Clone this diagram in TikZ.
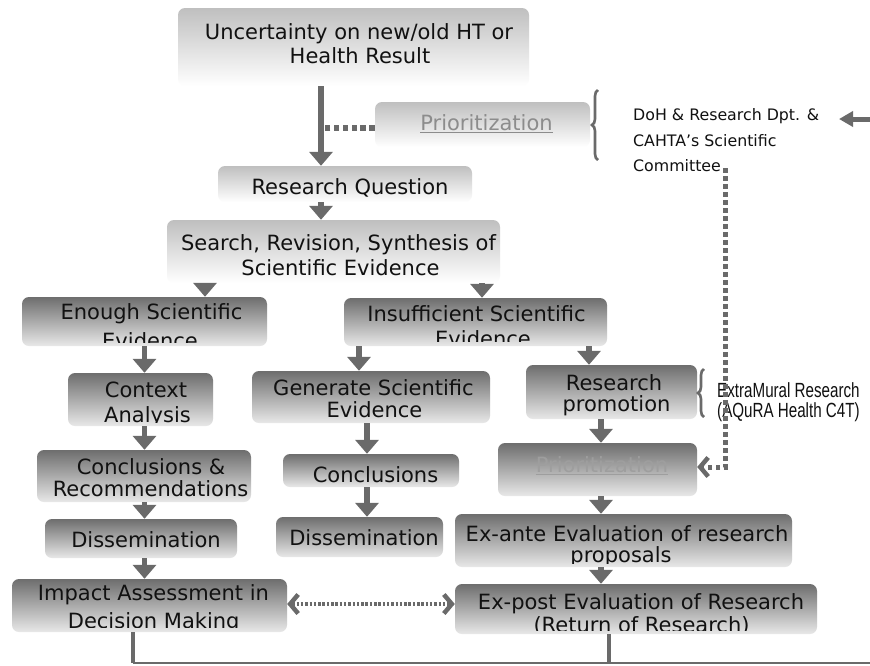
\documentclass[tikz,border=0pt]{standalone}
\usepackage{fontspec}
\usepackage{graphicx}
\setmainfont{DejaVu Sans}
\newfontfamily\arialf{Liberation Sans}
\usetikzlibrary{arrows.meta,decorations.pathreplacing}
\definecolor{arrgray}{HTML}{6A6A6A}
\definecolor{txtc}{HTML}{111111}
% clip to a box, with the lower edge raised by #2 (text frame margin)
\newcommand\clipto[2]{\clip[rounded corners=7pt] ([yshift=#2]#1.south west) rectangle (#1.north east);}
\tikzset{
  chev/.tip={Straight Barb[length=8pt,width=19pt,line width=4.5pt]},
  lbox/.style={rectangle, rounded corners=7pt, inner sep=0pt, draw=none, top color=black!25, bottom color=white},
  dbox/.style={rectangle, rounded corners=7pt, inner sep=0pt, draw=none, top color=black!57, bottom color=black!9},
  tl/.style={anchor=base, inner sep=0pt, text=txtc, font=\fontsize{21}{25}\selectfont},
  side/.style={anchor=base west, inner sep=0pt, text=txtc, font=\fontsize{15.8}{20}\selectfont},
  extra/.style={anchor=base west, inner sep=0pt, text=txtc, font=\arialf\fontsize{20.5}{24}\selectfont},
  arr/.style={draw=arrgray, line width=5.5pt, -{Triangle[width=23pt,length=14pt]}},
  arrsmall/.style={draw=arrgray, line width=5pt, -{Triangle[width=15pt,length=14pt]}},
  dotA/.style={draw=arrgray, line width=6pt, dash pattern=on 5.5pt off 3.4pt},
  dotV/.style={draw=arrgray, line width=5pt, dash pattern=on 4.5pt off 3.5pt},
  dotH/.style={draw=arrgray, line width=4pt, dash pattern=on 2.5pt off 1.8pt},
  brc/.style={draw=arrgray, line width=2.6pt, decorate, decoration={brace, amplitude=6pt}},
  vline/.style={draw=arrgray, line width=4.5pt},
  hline/.style={draw=arrgray, line width=2.5pt},
}
\begin{document}
\begin{tikzpicture}[x=1pt,y=-1pt]
\path[use as bounding box, fill=white] (0,0) rectangle (870,665);

% ---------- boxes ----------
\node[lbox, minimum width=351pt, minimum height=78pt] (top) at (353.5,47) {};
\node[lbox, minimum width=215pt, minimum height=45pt] (prioA) at (482.5,124.5) {};
\node[lbox, minimum width=254pt, minimum height=36pt] (rq) at (345,184) {};
\node[lbox, minimum width=333pt, minimum height=63pt] (search) at (333.5,251.5) {};
\node[dbox, minimum width=245pt, minimum height=49pt] (enough) at (144.5,321.5) {};
\node[dbox, minimum width=263pt, minimum height=48pt] (insuff) at (475.5,322) {};
\node[dbox, minimum width=145pt, minimum height=53pt] (context) at (140.5,399.5) {};
\node[dbox, minimum width=214pt, minimum height=52pt] (concR) at (144,476) {};
\node[dbox, minimum width=192pt, minimum height=39pt] (dissA) at (141,538.5) {};
\node[dbox, minimum width=275pt, minimum height=53pt] (impact) at (149.5,605.5) {};
\node[dbox, minimum width=238pt, minimum height=52pt] (gen) at (371,397) {};
\node[dbox, minimum width=176pt, minimum height=33pt] (concl) at (371,470.5) {};
\node[dbox, minimum width=167pt, minimum height=40pt] (dissB) at (359.5,537) {};
\node[dbox, minimum width=171pt, minimum height=54pt] (promo) at (611.5,392) {};
\node[dbox, minimum width=199pt, minimum height=53pt] (prioB) at (597.5,469.5) {};
\node[dbox, minimum width=337pt, minimum height=53pt] (exante) at (623.5,540.5) {};
\node[dbox, minimum width=362pt, minimum height=50pt] (expost) at (636,609) {};

% ---------- texts ----------
\begin{scope}\clipto{top}{0pt}
\node[tl] (top1) at (359,39.3) {Uncertainty on new/old HT or};
\node[tl] (top2) at (360,63.3) {Health Result};
\end{scope}
\node[tl, text=black!45] (prioA1) at (486.5,130) {\underline{Prioritization}};
\node[tl] (rq1) at (350,194) {Research Question};
\begin{scope}\clipto{search}{0pt}
\node[tl] (search1) at (338.5,250) {Search, Revision, Synthesis of};
\node[tl] (search2) at (340.5,275.7) {Scientific Evidence};
\end{scope}
\begin{scope}\clipto{enough}{3.5pt}
\node[tl] (enough1) at (151.5,319) {Enough Scientific};
\node[tl] (enough2) at (150,348) {Evidence};
\end{scope}
\begin{scope}\clipto{insuff}{4.5pt}
\node[tl] (insuff1) at (476.5,321) {Insufficient Scientific};
\node[tl] (insuff2) at (483,346) {Evidence};
\end{scope}
\begin{scope}\clipto{context}{3.5pt}
\node[tl] (context1) at (146,397) {Context};
\node[tl] (context2) at (147.5,422) {Analysis};
\end{scope}
\node[tl] (concR1) at (151,474) {Conclusions \&};
\node[tl] (concR2) at (150.5,496) {Recommendations};
\node[tl] (dissA1) at (146,547) {Dissemination};
\begin{scope}\clipto{impact}{5pt}
\node[tl] (impact1) at (153.5,600) {Impact Assessment in};
\node[tl] (impact2) at (153.7,628) {Decision Making};
\end{scope}
\begin{scope}\clipto{gen}{0pt}
\node[tl] (gen1) at (373.5,395) {Generate Scientific};
\node[tl] (gen2) at (374.5,417) {Evidence};
\end{scope}
\node[tl] (concl1) at (375.5,482) {Conclusions};
\node[tl] (dissB1) at (364,545) {Dissemination};
\node[tl] (promo1) at (614,390) {Research};
\node[tl] (promo2) at (616.5,411) {promotion};
\node[tl, text=black!38] (prioB1) at (602,472) {\underline{Prioritization}};
\begin{scope}\clipto{exante}{4pt}
\node[tl] (exante1) at (627,541) {Ex-ante Evaluation of research};
\node[tl] (exante2) at (621,562) {proposals};
\end{scope}
\begin{scope}\clipto{expost}{4pt}
\node[tl] (expost1) at (641,609) {Ex-post Evaluation of Research};
\node[tl] (expost2) at (641.5,632) {(Return of Research)};
\end{scope}

% side texts
\node[side] (doh1) at (633,120) {DoH \& Research Dpt. \&};
\node[side] (doh2) at (633,146) {CAHTA’s Scientific};
\node[side] (doh3) at (633,171) {Committee};
\node[extra] (ext1) at (717,397) {\scalebox{0.74}[1]{ExtraMural Research}};
\node[extra] (ext2) at (717,417) {\scalebox{0.74}[1]{(AQuRA Health C4T)}};

% braces
\draw[brc] (598,160) -- (598,90);
\draw[brc] (704,417) -- (704,369);

% ---------- coordinates for connector columns ----------
\coordinate (xA) at (321,0);
\coordinate (xB) at (205,0);
\coordinate (xC) at (482,0);
\coordinate (xD) at (144.5,0);
\coordinate (xE) at (359,0);
\coordinate (xF) at (367,0);
\coordinate (xG) at (589,0);
\coordinate (xH) at (601,0);
\coordinate (yQ) at (0,128);
\coordinate (yD) at (0,604);
\coordinate (yP) at (0,467);
\coordinate (cmt) at (725,168);
\coordinate (rEdge) at (870,119);
\coordinate (rTip) at (839,119);
\coordinate (bl) at (133,663);
\coordinate (br) at (609,663);
\coordinate (bend) at (870,663);

% dotted connectors
\draw[dotA] (prioA.west |- yQ) -- (xA |- yQ);
\draw[dotV, -{chev}] (cmt) |- (prioB.east |- yP);
\draw[dotH, {chev}-{chev}] (impact.east |- yD) -- (expost.west |- yD);

% solid arrows
\draw[arr] (top.south -| xA) -- (rq.north -| xA);
\draw[arr] (rq.south -| xA) -- (search.north -| xA);
\draw[arr] (search.south -| xB) -- (enough.north -| xB);
\draw[arr] (search.south -| xC) -- (insuff.north -| xC);
\draw[arr] (enough.south -| xD) -- (context.north -| xD);
\draw[arr] (context.south -| xD) -- (concR.north -| xD);
\draw[arr] (concR.south -| xD) -- (dissA.north -| xD);
\draw[arr] (dissA.south -| xD) -- (impact.north -| xD);
\draw[arr] (insuff.south -| xE) -- (gen.north -| xE);
\draw[arr] (gen.south -| xF) -- (concl.north -| xF);
\draw[arr] (concl.south -| xF) -- (dissB.north -| xF);
\draw[arr] (insuff.south -| xG) -- (promo.north -| xG);
\draw[arr] (promo.south -| xH) -- (prioB.north -| xH);
\draw[arr] (prioB.south -| xH) -- (exante.north -| xH);
\draw[arr] (exante.south -| xH) -- (expost.north -| xH);
\draw[arrsmall] (rEdge) -- (rTip);

% bottom lines
\draw[vline] (impact.south -| bl) -- (bl);
\draw[vline] (expost.south -| br) -- (br);
\draw[hline] (bl) -- (bend);
\end{tikzpicture}
\end{document}
